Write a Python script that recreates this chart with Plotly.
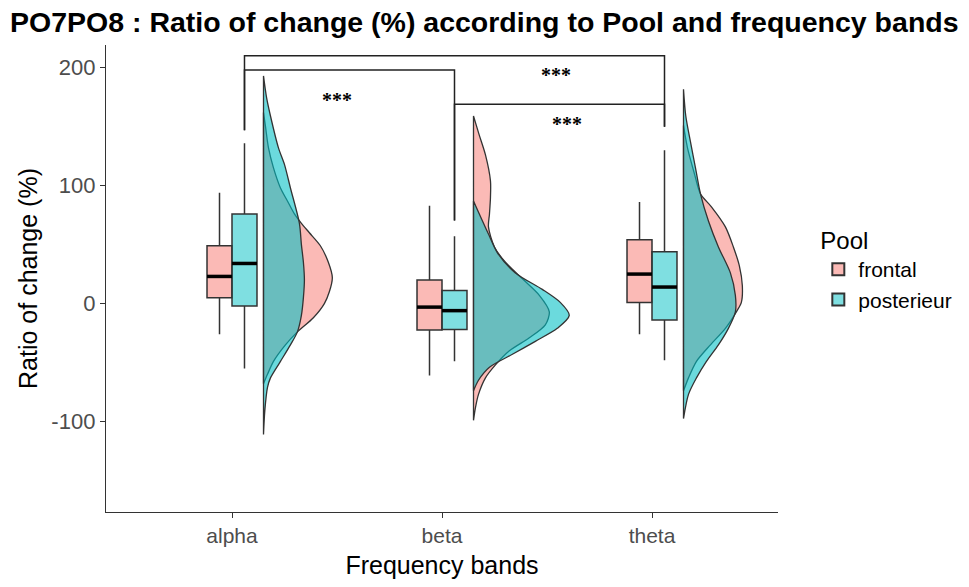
import plotly.graph_objects as go

# ---------------- data ----------------
categories = ["alpha", "beta", "theta"]
pools = ["frontal", "posterieur"]

# box-plot statistics (Ratio of change, %)
frontal_upper = [94, 83, 86]
frontal_q3 = [49, 20, 54]
frontal_median = [23, -3, 25]
frontal_q1 = [5, -22.5, 1]
frontal_lower = [-26, -61, -26]

posterieur_upper = [136, 57, 130]
posterieur_q3 = [76, 11, 44]
posterieur_median = [34, -6, 14]
posterieur_q1 = [-2, -22, -14]
posterieur_lower = [-55, -49, -48]

# half-violin density profiles (value levels, relative density)
alpha_frontal_y = [-68, -60, -49, -35, -24, -12, 0, 10, 22, 35, 49, 60, 68, 76, 87, 98, 115, 132, 150, 162]
alpha_frontal_d = [0, .04, .10, .22, .34, .50, .61, .66, .69, .65, .57, .46, .38, .31, .24, .17, .10, .05, .02, 0]
alpha_post_y = [-111, -91, -71, -63, -49, -35, -24, -10, 5, 20, 35, 50, 68, 98, 118, 132, 159, 175, 193]
alpha_post_d = [0, .013, .04, .07, .17, .27, .34, .38, .40, .41, .40, .38, .36, .27, .21, .15, .07, .03, 0]

beta_frontal_y = [-99, -88, -77, -63, -52, -40, -29, -18, -7, 7, 21, 35, 48, 65, 76, 90, 104, 126, 143, 159]
beta_frontal_d = [0, .02, .05, .12, .22, .36, .56, .72, .76, .66, .49, .32, .21, .15, .16, .17, .17, .12, .057, 0]
beta_post_y = [-74, -65, -54, -43, -32, -21, -10, 1, 12, 26, 43, 59, 70, 87]
beta_post_d = [0, .05, .16, .39, .62, .84, .96, .87, .69, .42, .24, .15, .09, 0]

theta_frontal_y = [-74, -63, -49, -35, -21, -7, 1, 15, 32, 48, 65, 82, 93, 110, 132, 151]
theta_frontal_d = [0, .05, .13, .27, .42, .53, .58, .59, .56, .50, .42, .28, .17, .11, .04, 0]
theta_post_y = [-97.5, -77, -63, -49, -35, -21, -7, 7, 26, 48, 70, 93, 115, 137, 159, 181.7]
theta_post_d = [0, .05, .13, .23, .35, .45, .52, .52, .47, .35, .25, .17, .12, .07, .023, 0]

# y-axis ticks
y_ticks = [-100, 0, 100, 200]
y_tick_labels = ["-100", "0", "100", "200"]

# significance brackets: (from category, to category), height and leg ends
bracket_from = ["alpha", "alpha", "beta"]
bracket_to = ["theta", "beta", "theta"]
bracket_top = [210, 198, 169]
bracket_left_end = [147, 147, 70.5]
bracket_right_end = [150, 70.5, 150]
star_labels = ["***", "***", "***"]

# ---------------- styling / geometry ----------------
PINK_BOX = "rgba(248,118,109,0.5)"
CYAN_BOX = "rgba(0,191,196,0.5)"
PINK_VIO = "rgba(248,118,109,0.5)"
CYAN_VIO = "rgba(0,191,196,0.58)"
OUTLINE = "#333333"
BOX_W = 0.119
DODGE = BOX_W / 2
VIO_OFF = 0.15
DENS_SCALE = 0.475

pos = {c: i + 1 for i, c in enumerate(categories)}
xs = [pos[c] for c in categories]

fig = go.Figure()

box_sets = [
    ("frontal", -DODGE, PINK_BOX, frontal_q1, frontal_median, frontal_q3, frontal_lower, frontal_upper),
    ("posterieur", DODGE, CYAN_BOX, posterieur_q1, posterieur_median, posterieur_q3, posterieur_lower, posterieur_upper),
]
for name, off, col, q1, med, q3, lo, up in box_sets:
    fig.add_trace(go.Box(
        x=[x + off for x in xs], q1=q1, median=med, q3=q3,
        lowerfence=lo, upperfence=up, width=BOX_W, whiskerwidth=0,
        fillcolor=col, line=dict(color=OUTLINE, width=1.5),
        name=name, legendgroup=name, showlegend=True, hoverinfo="skip"))
    mx, my = [], []
    for x, m in zip(xs, med):
        mx += [x + off - BOX_W / 2, x + off + BOX_W / 2, None]
        my += [m, m, None]
    fig.add_trace(go.Scatter(x=mx, y=my, mode="lines", line=dict(color="black", width=3.5),
                             showlegend=False, hoverinfo="skip", legendgroup=name))

violins = [
    ("frontal", PINK_VIO, [(alpha_frontal_y, alpha_frontal_d), (beta_frontal_y, beta_frontal_d), (theta_frontal_y, theta_frontal_d)]),
    ("posterieur", CYAN_VIO, [(alpha_post_y, alpha_post_d), (beta_post_y, beta_post_d), (theta_post_y, theta_post_d)]),
]
for name, col, profiles in violins:
    for x, (yy, dd) in zip(xs, profiles):
        base = x + VIO_OFF
        px = [base + d * DENS_SCALE for d in dd] + [base] * len(yy) + [base]
        py = list(yy) + list(yy[::-1]) + [yy[0]]
        fig.add_trace(go.Scatter(x=px, y=py, mode="lines", fill="toself", fillcolor=col,
                                 line=dict(color=OUTLINE, width=1.3, shape="spline", smoothing=0.8),
                                 showlegend=False, hoverinfo="skip", legendgroup=name))

# brackets
for a, b, top, le, re in zip(bracket_from, bracket_to, bracket_top, bracket_left_end, bracket_right_end):
    xa = pos[a] + DODGE
    xb = pos[b] + DODGE
    fig.add_trace(go.Scatter(x=[xa, xa, xb, xb], y=[le, top, top, re], mode="lines",
                             line=dict(color="#222222", width=1.5), showlegend=False, hoverinfo="skip"))

star_pos = [(1.50, 173), (2.545, 194), (2.595, 152.5)]
for (sx, sy), lab in zip(star_pos, star_labels):
    fig.add_annotation(x=sx, y=sy, text="<b>" + lab + "</b>", showarrow=False,
                       font=dict(family="Liberation Serif", size=20, color="black"))

fig.update_layout(
    width=969, height=587,
    margin=dict(l=106, r=190, t=45, b=67),
    paper_bgcolor="white", plot_bgcolor="white",
    font=dict(family="Liberation Sans, Arial, sans-serif", color="black"),
    title=dict(text="<b>PO7PO8 : Ratio of change (%) according to Pool and frequency bands</b>",
               x=10 / 969, xanchor="left", xref="container",
               y=1 - 22 / 587, yanchor="middle", yref="container",
               font=dict(size=28.5, color="black")),
    boxmode="overlay",
    showlegend=True,
    legend=dict(title=dict(text="Pool", font=dict(size=24)), font=dict(size=21),
                x=1.06, xanchor="left", y=0.63, yanchor="top", tracegroupgap=0,
                itemsizing="constant"),
)
fig.update_xaxes(range=[0.4, 3.6], tickvals=xs, ticktext=categories,
                 showline=True, linecolor=OUTLINE, linewidth=1.4, ticks="outside",
                 ticklen=5, tickcolor=OUTLINE, tickwidth=1.4, showgrid=False, zeroline=False,
                 tickfont=dict(size=21, color="#4d4d4d"),
                 title=dict(text="Frequency bands", font=dict(size=25), standoff=10))
fig.update_yaxes(range=[-176.7, 219.2], tickvals=y_ticks, ticktext=y_tick_labels,
                 showline=True, linecolor=OUTLINE, linewidth=1.4, ticks="outside",
                 ticklen=5, tickcolor=OUTLINE, tickwidth=1.4, showgrid=False, zeroline=False,
                 tickfont=dict(size=22, color="#4d4d4d"),
                 title=dict(text="Ratio of change (%)", font=dict(size=25), standoff=6))

fig.write_html("out.html")
